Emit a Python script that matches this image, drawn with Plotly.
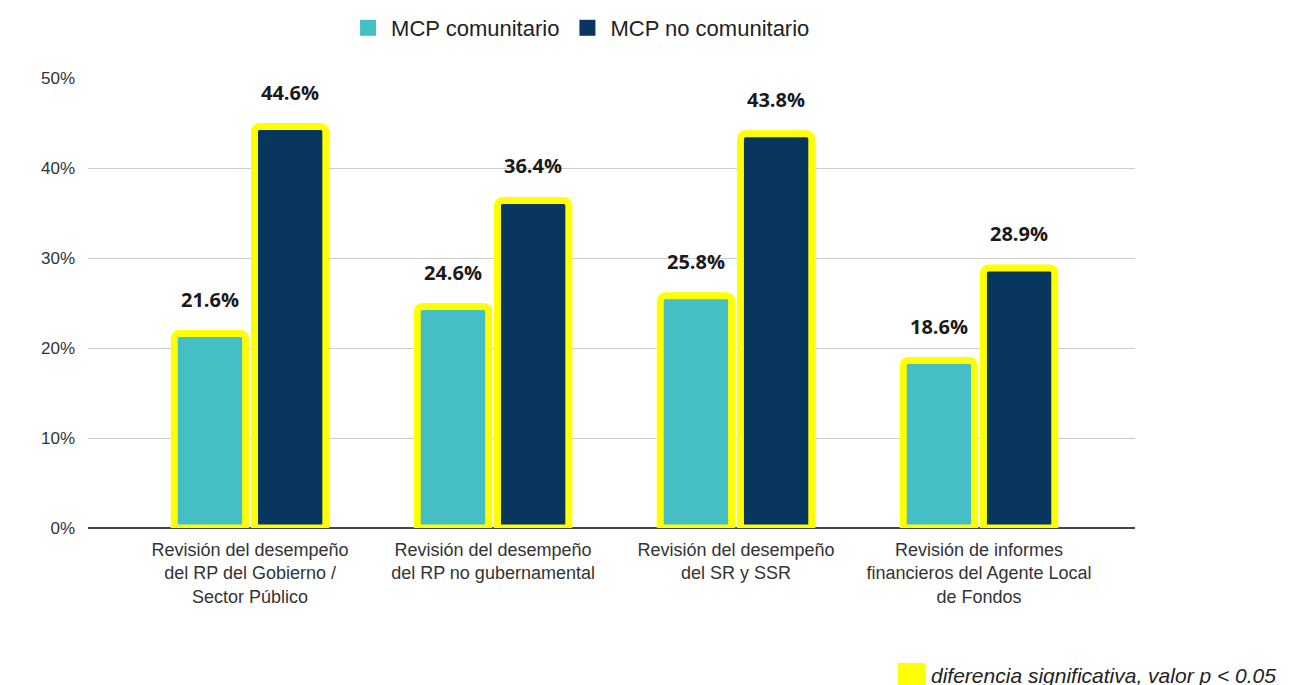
import plotly.graph_objects as go

categories = [
    "Revisión del desempeño<br>del RP del Gobierno /<br>Sector Público",
    "Revisión del desempeño<br>del RP no gubernamental",
    "Revisión del desempeño<br>del SR y SSR",
    "Revisión de informes<br>financieros del Agente Local<br>de Fondos",
]
comunitario = [21.6, 24.6, 25.8, 18.6]
no_comunitario = [44.6, 36.4, 43.8, 28.9]
y_ticks = [0, 10, 20, 30, 40, 50]

LIGHT = "#46bec6"
DARK = "#09365e"
YELLOW = "#ffff00"
FONT = "Liberation Sans, Arial, sans-serif"

# the page body adds an 8px offset, so the plot box is placed 8px up/left
L, T, PW, PH = 80, 70, 1047, 450

fig = go.Figure()
for name, vals, col in [
    ("MCP comunitario", comunitario, LIGHT),
    ("MCP no comunitario", no_comunitario, DARK),
]:
    fig.add_trace(go.Bar(
        x=categories, y=vals, name=name, showlegend=False,
        marker=dict(color=col, line=dict(color=YELLOW, width=7)),
    ))
    # legend entry: plain square without the yellow outline
    fig.add_trace(go.Scatter(
        x=[None], y=[None], mode="markers", name=name,
        marker=dict(symbol="square", size=18, color=col),
    ))

# value labels above the bars
for vals, shift in [(comunitario, -40), (no_comunitario, 40)]:
    for cat, v in zip(categories, vals):
        fig.add_annotation(
            x=cat, y=v, text=f"<b>{v:.1f}%</b>", showarrow=False,
            xshift=shift, yshift=19, yanchor="bottom",
            font=dict(family="Open Sans, sans-serif", size=20, color="#1a1a1a"),
        )

# significance note
fig.add_shape(type="rect", xref="paper", yref="paper",
              x0=(890 - L) / PW, x1=(917 - L) / PW,
              y0=-(655 - T - PH) / PH, y1=-(678 - T - PH) / PH,
              fillcolor=YELLOW, line=dict(width=0))
fig.add_annotation(
    xref="paper", yref="paper", x=(921 - L) / PW, y=-(667 - T - PH) / PH,
    xanchor="left", yanchor="middle", showarrow=False,
    text="<i>diferencia significativa, valor p < 0.05</i>",
    font=dict(family=FONT, size=21, color="#222"),
)

fig.update_layout(
    width=1293, height=685,
    margin=dict(l=L, r=1293 - L - PW, t=T, b=685 - T - PH, autoexpand=False),
    plot_bgcolor="white", paper_bgcolor="white",
    barmode="group", bargap=0.34, bargroupgap=0.11, barcornerradius=5,
    font=dict(family=FONT, size=18, color="#333"),
    legend=dict(orientation="h", x=0.47, xanchor="center",
                y=1 + (T - 20) / PH, yanchor="middle", yref="paper",
                font=dict(size=22, color="#222"),
                traceorder="normal", itemwidth=36),
    showlegend=True,
)
fig.update_xaxes(range=[-0.667, 3.642], showgrid=False, ticks="",
                 tickfont=dict(size=18, color="#333"), ticklabelstandoff=9)
fig.update_yaxes(range=[0, 50], tickvals=y_ticks, ticktext=[f"{t}%" for t in y_ticks],
                 showgrid=True, gridcolor="#cccccc", gridwidth=1,
                 zeroline=True, zerolinecolor="#444", zerolinewidth=1.5,
                 tickfont=dict(size=17, color="#333"), ticklabelstandoff=12)

fig.write_html("out.html")
